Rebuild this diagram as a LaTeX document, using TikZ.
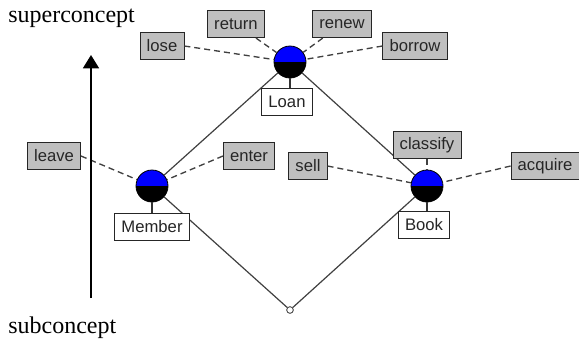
\documentclass[tikz,border=0pt]{standalone}
\usepackage{fontspec}
\setmainfont{Liberation Serif}
\newfontfamily\labfont{Liberation Sans}
\usetikzlibrary{arrows.meta}
\begin{document}
\begin{tikzpicture}[x=0.75pt,y=-0.75pt,
  attr/.style={draw=black!85,fill=black!25,line width=0.6pt,font=\labfont\fontsize{12.5}{14}\selectfont,text=black!85,inner xsep=5pt,inner ysep=0pt,minimum height=20.5pt},
  obj/.style={attr,fill=white},
  concept/.style={circle,draw=black,line width=0.6pt,minimum size=24pt,inner sep=0pt,
    path picture={
      \fill[blue] (path picture bounding box.west) rectangle (path picture bounding box.north east);
      \fill[black] (path picture bounding box.west) rectangle (path picture bounding box.south east);}},
  botnode/.style={circle,draw=black!80,fill=white,line width=0.6pt,minimum size=5pt,inner sep=0pt},
  latline/.style={draw=black!75,line width=0.9pt},
  attrline/.style={draw=black!75,line width=1pt,dash pattern=on 4.5pt off 3pt},
  objtick/.style={draw=black!80,line width=0.9pt}
]
\useasboundingbox (0,0) rectangle (579,343);

% concepts
\node[concept] (loan) at (290,62) {};
\node[concept] (member) at (152,186) {};
\node[concept] (book) at (427,186) {};
\node[botnode] (bot) at (290,310) {};

% lattice edges
\draw[latline] (loan) -- (member);
\draw[latline] (loan) -- (book);
\draw[latline] (member) -- (bot);
\draw[latline] (book) -- (bot);

% attribute labels
\node[attr] (lose) at (162,46) {lose};
\node[attr] (return) at (236,24) {return};
\node[attr] (renew) at (342,24) {renew};
\node[attr] (borrow) at (415,46) {borrow};
\node[attr] (leave) at (54,156) {leave};
\node[attr] (enter) at (249,156) {enter};
\node[attr] (classify) at (427,145) {classify};
\node[attr] (sell) at (308,166) {sell};
\node[attr] (acquire) at (545,166) {acquire};

% object labels
\node[obj] (loanl) at (287,102) {Loan};
\node[obj] (memberl) at (152,227) {Member};
\node[obj] (bookl) at (424,225) {Book};

% dashed attribute connectors
\draw[attrline] (lose.east) -- (loan);
\draw[attrline] (return) -- (loan);
\draw[attrline] (renew) -- (loan);
\draw[attrline] (borrow.west) -- (loan);
\draw[attrline] (leave.east) -- (member);
\draw[attrline] (enter.west) -- (member);
\draw[attrline] (classify) -- (book);
\draw[attrline] (sell.east) -- (book);
\draw[attrline] (acquire.west) -- (book);

% object ticks
\draw[objtick] (loan.south) -- (loan.south |- loanl.north);
\draw[objtick] (member.south) -- (member.south |- memberl.north);
\draw[objtick] (book.south) -- (book.south |- bookl.north);

% axis arrow
\coordinate (abot) at (91,298);
\coordinate (atop) at (91,55);
\draw[line width=1.3pt,-{Triangle[length=10pt,width=12pt]}] (abot) -- (atop);
\node[font=\fontsize{18}{20}\selectfont,anchor=base west,inner sep=0pt] (sup) at (8,22) {superconcept};
\node[font=\fontsize{18}{20}\selectfont,anchor=base west,inner sep=0pt] (sub) at (8,333) {subconcept};
\end{tikzpicture}
\end{document}
